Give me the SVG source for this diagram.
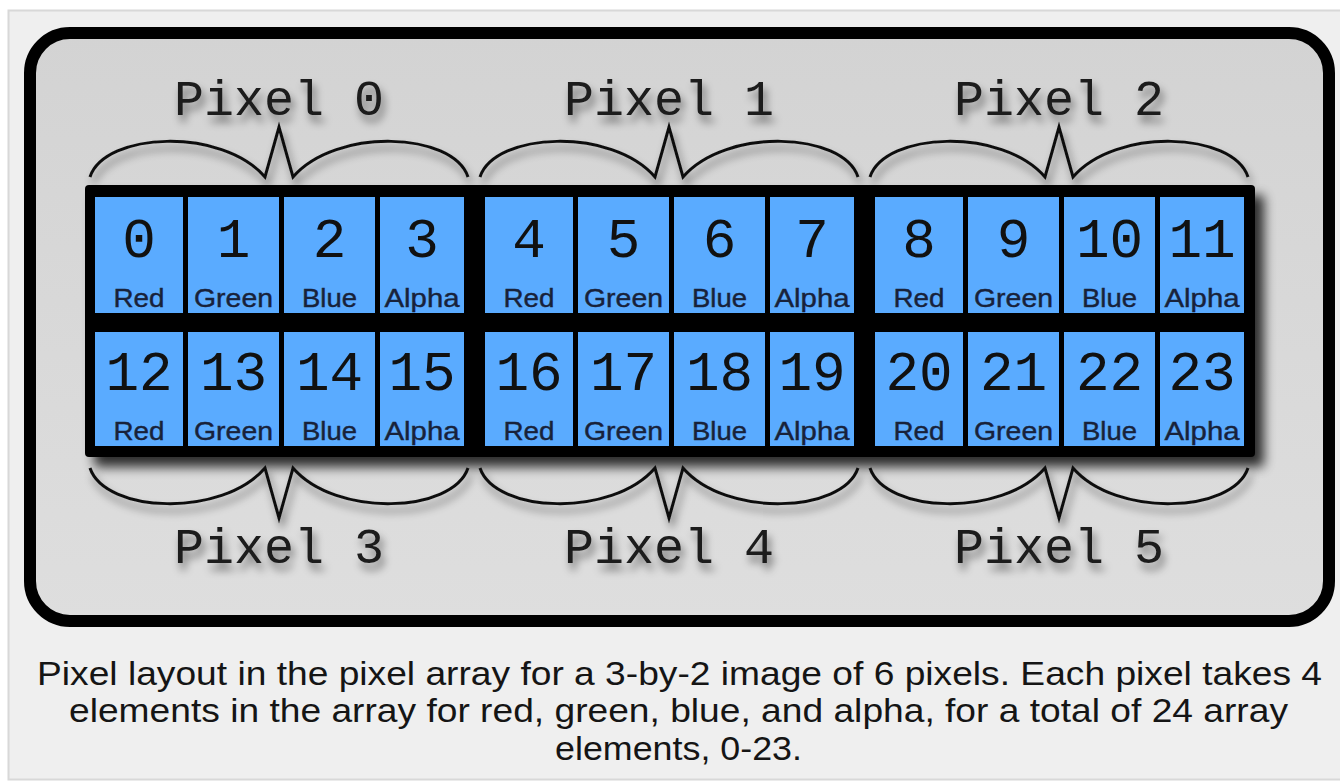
<svg xmlns="http://www.w3.org/2000/svg" width="1340" height="782" viewBox="0 0 1340 782">
  <defs>
    <linearGradient id="boxFill" x1="0" y1="0" x2="0" y2="1">
      <stop offset="0" stop-color="#d3d3d3"/>
      <stop offset="1" stop-color="#dedede"/>
    </linearGradient>
    <filter id="gridShadow" x="-5%" y="-10%" width="115%" height="130%">
      <feGaussianBlur in="SourceAlpha" stdDeviation="6"/>
      <feOffset dx="9" dy="10" result="b"/>
      <feComponentTransfer><feFuncA type="linear" slope="0.8"/></feComponentTransfer>
      <feMerge><feMergeNode/><feMergeNode in="SourceGraphic"/></feMerge>
    </filter>
    <filter id="softShadow" x="-10%" y="-30%" width="130%" height="180%">
      <feGaussianBlur in="SourceAlpha" stdDeviation="4.5"/>
      <feOffset dx="3" dy="7" result="b"/>
      <feComponentTransfer><feFuncA type="linear" slope="0.5"/></feComponentTransfer>
      <feMerge><feMergeNode/><feMergeNode in="SourceGraphic"/></feMerge>
    </filter>
  </defs>
  <style>
    .cell { fill: #5aabff; }
    .num { font-family: "Liberation Mono", "DejaVu Sans Mono", monospace; font-size: 56px; fill: #111; text-anchor: middle; }
    .lab { font-family: "Liberation Sans", Arial, sans-serif; font-size: 26px; fill: #18223a; text-anchor: middle; stroke: #18223a; stroke-width: 0.4; }
    .pix { font-family: "Liberation Mono", "DejaVu Sans Mono", monospace; font-size: 50px; fill: #1a1a1a; text-anchor: middle; }
    .brace { fill: none; stroke: #111; stroke-width: 3; stroke-linejoin: miter; }
    .cap { font-family: "Liberation Sans", Arial, sans-serif; font-size: 33px; fill: #151515; }
  </style>

  <rect x="0" y="0" width="1340" height="782" fill="#ffffff"/>
  <rect x="8.5" y="10.5" width="1340" height="769" fill="#efefef" stroke="#d8d8d8" stroke-width="2"/>

  <rect id="frame" x="30" y="33" width="1299" height="588" rx="40" fill="url(#boxFill)" stroke="#000" stroke-width="12"/>

  <g id="grid" filter="url(#gridShadow)">
    <rect x="85" y="185" width="1170" height="272" rx="4" fill="#000"/>
  </g>

  <g id="cells">
    <g id="cell-0"><rect class="cell" x="95" y="197" width="88" height="116"/><text class="num" x="139" y="257">0</text><text class="lab" x="139" y="307" textLength="51" lengthAdjust="spacingAndGlyphs">Red</text></g>
    <g id="cell-1"><rect class="cell" x="188" y="197" width="91" height="116"/><text class="num" x="233.5" y="257">1</text><text class="lab" x="233.5" y="307" textLength="79" lengthAdjust="spacingAndGlyphs">Green</text></g>
    <g id="cell-2"><rect class="cell" x="284" y="197" width="91" height="116"/><text class="num" x="329.5" y="257">2</text><text class="lab" x="329.5" y="307" textLength="55" lengthAdjust="spacingAndGlyphs">Blue</text></g>
    <g id="cell-3"><rect class="cell" x="380" y="197" width="84" height="116"/><text class="num" x="422" y="257">3</text><text class="lab" x="422" y="307" textLength="75" lengthAdjust="spacingAndGlyphs">Alpha</text></g>
    <g id="cell-4"><rect class="cell" x="485" y="197" width="88" height="116"/><text class="num" x="529" y="257">4</text><text class="lab" x="529" y="307" textLength="51" lengthAdjust="spacingAndGlyphs">Red</text></g>
    <g id="cell-5"><rect class="cell" x="578" y="197" width="91" height="116"/><text class="num" x="623.5" y="257">5</text><text class="lab" x="623.5" y="307" textLength="79" lengthAdjust="spacingAndGlyphs">Green</text></g>
    <g id="cell-6"><rect class="cell" x="674" y="197" width="91" height="116"/><text class="num" x="719.5" y="257">6</text><text class="lab" x="719.5" y="307" textLength="55" lengthAdjust="spacingAndGlyphs">Blue</text></g>
    <g id="cell-7"><rect class="cell" x="770" y="197" width="84" height="116"/><text class="num" x="812" y="257">7</text><text class="lab" x="812" y="307" textLength="75" lengthAdjust="spacingAndGlyphs">Alpha</text></g>
    <g id="cell-8"><rect class="cell" x="875" y="197" width="88" height="116"/><text class="num" x="919" y="257">8</text><text class="lab" x="919" y="307" textLength="51" lengthAdjust="spacingAndGlyphs">Red</text></g>
    <g id="cell-9"><rect class="cell" x="968" y="197" width="91" height="116"/><text class="num" x="1013.5" y="257">9</text><text class="lab" x="1013.5" y="307" textLength="79" lengthAdjust="spacingAndGlyphs">Green</text></g>
    <g id="cell-10"><rect class="cell" x="1064" y="197" width="91" height="116"/><text class="num" x="1109.5" y="257">10</text><text class="lab" x="1109.5" y="307" textLength="55" lengthAdjust="spacingAndGlyphs">Blue</text></g>
    <g id="cell-11"><rect class="cell" x="1160" y="197" width="84" height="116"/><text class="num" x="1202" y="257">11</text><text class="lab" x="1202" y="307" textLength="75" lengthAdjust="spacingAndGlyphs">Alpha</text></g>

    <g id="cell-12"><rect class="cell" x="95" y="332" width="88" height="114"/><text class="num" x="139" y="390">12</text><text class="lab" x="139" y="440" textLength="51" lengthAdjust="spacingAndGlyphs">Red</text></g>
    <g id="cell-13"><rect class="cell" x="188" y="332" width="91" height="114"/><text class="num" x="233.5" y="390">13</text><text class="lab" x="233.5" y="440" textLength="79" lengthAdjust="spacingAndGlyphs">Green</text></g>
    <g id="cell-14"><rect class="cell" x="284" y="332" width="91" height="114"/><text class="num" x="329.5" y="390">14</text><text class="lab" x="329.5" y="440" textLength="55" lengthAdjust="spacingAndGlyphs">Blue</text></g>
    <g id="cell-15"><rect class="cell" x="380" y="332" width="84" height="114"/><text class="num" x="422" y="390">15</text><text class="lab" x="422" y="440" textLength="75" lengthAdjust="spacingAndGlyphs">Alpha</text></g>
    <g id="cell-16"><rect class="cell" x="485" y="332" width="88" height="114"/><text class="num" x="529" y="390">16</text><text class="lab" x="529" y="440" textLength="51" lengthAdjust="spacingAndGlyphs">Red</text></g>
    <g id="cell-17"><rect class="cell" x="578" y="332" width="91" height="114"/><text class="num" x="623.5" y="390">17</text><text class="lab" x="623.5" y="440" textLength="79" lengthAdjust="spacingAndGlyphs">Green</text></g>
    <g id="cell-18"><rect class="cell" x="674" y="332" width="91" height="114"/><text class="num" x="719.5" y="390">18</text><text class="lab" x="719.5" y="440" textLength="55" lengthAdjust="spacingAndGlyphs">Blue</text></g>
    <g id="cell-19"><rect class="cell" x="770" y="332" width="84" height="114"/><text class="num" x="812" y="390">19</text><text class="lab" x="812" y="440" textLength="75" lengthAdjust="spacingAndGlyphs">Alpha</text></g>
    <g id="cell-20"><rect class="cell" x="875" y="332" width="88" height="114"/><text class="num" x="919" y="390">20</text><text class="lab" x="919" y="440" textLength="51" lengthAdjust="spacingAndGlyphs">Red</text></g>
    <g id="cell-21"><rect class="cell" x="968" y="332" width="91" height="114"/><text class="num" x="1013.5" y="390">21</text><text class="lab" x="1013.5" y="440" textLength="79" lengthAdjust="spacingAndGlyphs">Green</text></g>
    <g id="cell-22"><rect class="cell" x="1064" y="332" width="91" height="114"/><text class="num" x="1109.5" y="390">22</text><text class="lab" x="1109.5" y="440" textLength="55" lengthAdjust="spacingAndGlyphs">Blue</text></g>
    <g id="cell-23"><rect class="cell" x="1160" y="332" width="84" height="114"/><text class="num" x="1202" y="390">23</text><text class="lab" x="1202" y="440" textLength="75" lengthAdjust="spacingAndGlyphs">Alpha</text></g>
  </g>

  <g id="connectors" filter="url(#softShadow)">
    <path class="brace" d="M90,177 C105,132 222,127 265,177 L279,127 L293,177 C336,127 453,132 468,177"/>
    <path class="brace" d="M480,177 C495,132 612,127 655,177 L669,127 L683,177 C726,127 843,132 858,177"/>
    <path class="brace" d="M870,177 C885,132 1002,127 1045,177 L1059,127 L1073,177 C1116,127 1233,132 1248,177"/>
    <path class="brace" d="M90,468 C105,513 222,518 265,468 L279,518 L293,468 C336,518 453,513 468,468"/>
    <path class="brace" d="M480,468 C495,513 612,518 655,468 L669,518 L683,468 C726,518 843,513 858,468"/>
    <path class="brace" d="M870,468 C885,513 1002,518 1045,468 L1059,518 L1073,468 C1116,518 1233,513 1248,468"/>
  </g>

  <g id="pixel-labels" filter="url(#softShadow)">
    <g id="pixel-0"><text class="pix" x="279" y="115">Pixel 0</text></g>
    <g id="pixel-1"><text class="pix" x="669" y="115">Pixel 1</text></g>
    <g id="pixel-2"><text class="pix" x="1059" y="115">Pixel 2</text></g>
    <g id="pixel-3"><text class="pix" x="279" y="563">Pixel 3</text></g>
    <g id="pixel-4"><text class="pix" x="669" y="563">Pixel 4</text></g>
    <g id="pixel-5"><text class="pix" x="1059" y="563">Pixel 5</text></g>
  </g>

  <g id="caption">
    <text class="cap" x="37" y="685" textLength="1285" lengthAdjust="spacingAndGlyphs">Pixel layout in the pixel array for a 3-by-2 image of 6 pixels. Each pixel takes 4</text>
    <text class="cap" x="69" y="722" textLength="1219" lengthAdjust="spacingAndGlyphs">elements in the array for red, green, blue, and alpha, for a total of 24 array</text>
    <text class="cap" x="555" y="760" textLength="247" lengthAdjust="spacingAndGlyphs">elements, 0-23.</text>
  </g>
</svg>
